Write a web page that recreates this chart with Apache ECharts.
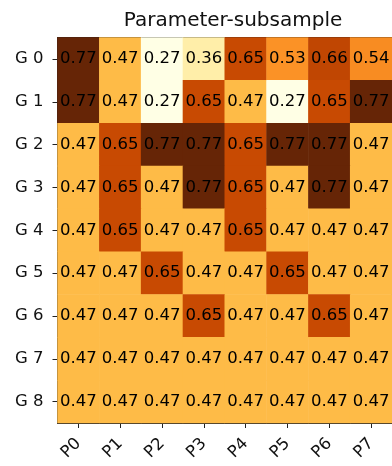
<!DOCTYPE html>
<html>
<head>
<meta charset="utf-8">
<script src="https://cdn.jsdelivr.net/npm/echarts@6/dist/echarts.min.js"></script>
<style>
  html, body { margin: 0; padding: 0; background: #fff; }
  #chart { width: 392px; height: 466px; }
</style>
</head>
<body>
<div id="chart"></div>
<script>
// Column and row labels
const params = ['P0', 'P1', 'P2', 'P3', 'P4', 'P5', 'P6', 'P7'];
const groups = ['G 0', 'G 1', 'G 2', 'G 3', 'G 4', 'G 5', 'G 6', 'G 7', 'G 8'];

// One list of values per row, left to right
const rowG0 = [0.77, 0.47, 0.27, 0.36, 0.65, 0.53, 0.66, 0.54];
const rowG1 = [0.77, 0.47, 0.27, 0.65, 0.47, 0.27, 0.65, 0.77];
const rowG2 = [0.47, 0.65, 0.77, 0.77, 0.65, 0.77, 0.77, 0.47];
const rowG3 = [0.47, 0.65, 0.47, 0.77, 0.65, 0.47, 0.77, 0.47];
const rowG4 = [0.47, 0.65, 0.47, 0.47, 0.65, 0.47, 0.47, 0.47];
const rowG5 = [0.47, 0.47, 0.65, 0.47, 0.47, 0.65, 0.47, 0.47];
const rowG6 = [0.47, 0.47, 0.47, 0.65, 0.47, 0.47, 0.65, 0.47];
const rowG7 = [0.47, 0.47, 0.47, 0.47, 0.47, 0.47, 0.47, 0.47];
const rowG8 = [0.47, 0.47, 0.47, 0.47, 0.47, 0.47, 0.47, 0.47];

const rows = [rowG0, rowG1, rowG2, rowG3, rowG4, rowG5, rowG6, rowG7, rowG8];

// YlOrBr colour ramp
const ylOrBr = ['#ffffe5', '#fff7bc', '#fee391', '#fec44f', '#fe9929',
                '#ec7014', '#cc4c02', '#993404', '#662506'];

const cells = [];
rows.forEach((row, r) => row.forEach((v, c) => cells.push([c, r, v])));
const allValues = rows.flat();
const vMin = Math.min(...allValues);
const vMax = Math.max(...allValues);

const FONT = 'DejaVu Sans';
const chart = echarts.init(document.getElementById('chart'), null, { renderer: 'canvas' });

chart.setOption({
  animation: false,
  backgroundColor: '#ffffff',
  title: {
    text: 'Parameter-subsample',
    left: 228,
    textAlign: 'center',
    top: 6,
    textStyle: { fontFamily: FONT, fontSize: 20, fontWeight: 'normal', color: '#111' }
  },
  grid: {
    left: 57.5, top: 37.5, right: -8, bottom: 43,
    show: true, borderColor: '#222', borderWidth: 1, backgroundColor: 'transparent'
  },
  xAxis: {
    type: 'category',
    data: params,
    axisLine: { show: true, lineStyle: { color: '#222', width: 1 } },
    axisTick: { show: true, alignWithLabel: true, length: 5, lineStyle: { color: '#222' } },
    axisLabel: { rotate: 45, margin: 18, fontFamily: FONT, fontSize: 16.5, color: '#111' },
    splitLine: { show: false }
  },
  yAxis: {
    type: 'category',
    data: groups,
    inverse: true,
    axisLine: { show: true, lineStyle: { color: '#222', width: 1 } },
    axisTick: { show: true, alignWithLabel: true, length: 5, lineStyle: { color: '#222' } },
    axisLabel: { margin: 14, fontFamily: FONT, fontSize: 16.5, color: '#111' },
    splitLine: { show: false }
  },
  visualMap: {
    show: false,
    type: 'continuous',
    min: vMin,
    max: vMax,
    dimension: 2,
    inRange: { color: ylOrBr }
  },
  series: [{
    type: 'heatmap',
    data: cells,
    label: {
      show: true,
      formatter: p => p.value[2].toFixed(2),
      fontFamily: FONT,
      fontSize: 16.5,
      color: '#000'
    },
    itemStyle: { borderWidth: 0 },
    emphasis: { disabled: true }
  }]
});
</script>
</body>
</html>
